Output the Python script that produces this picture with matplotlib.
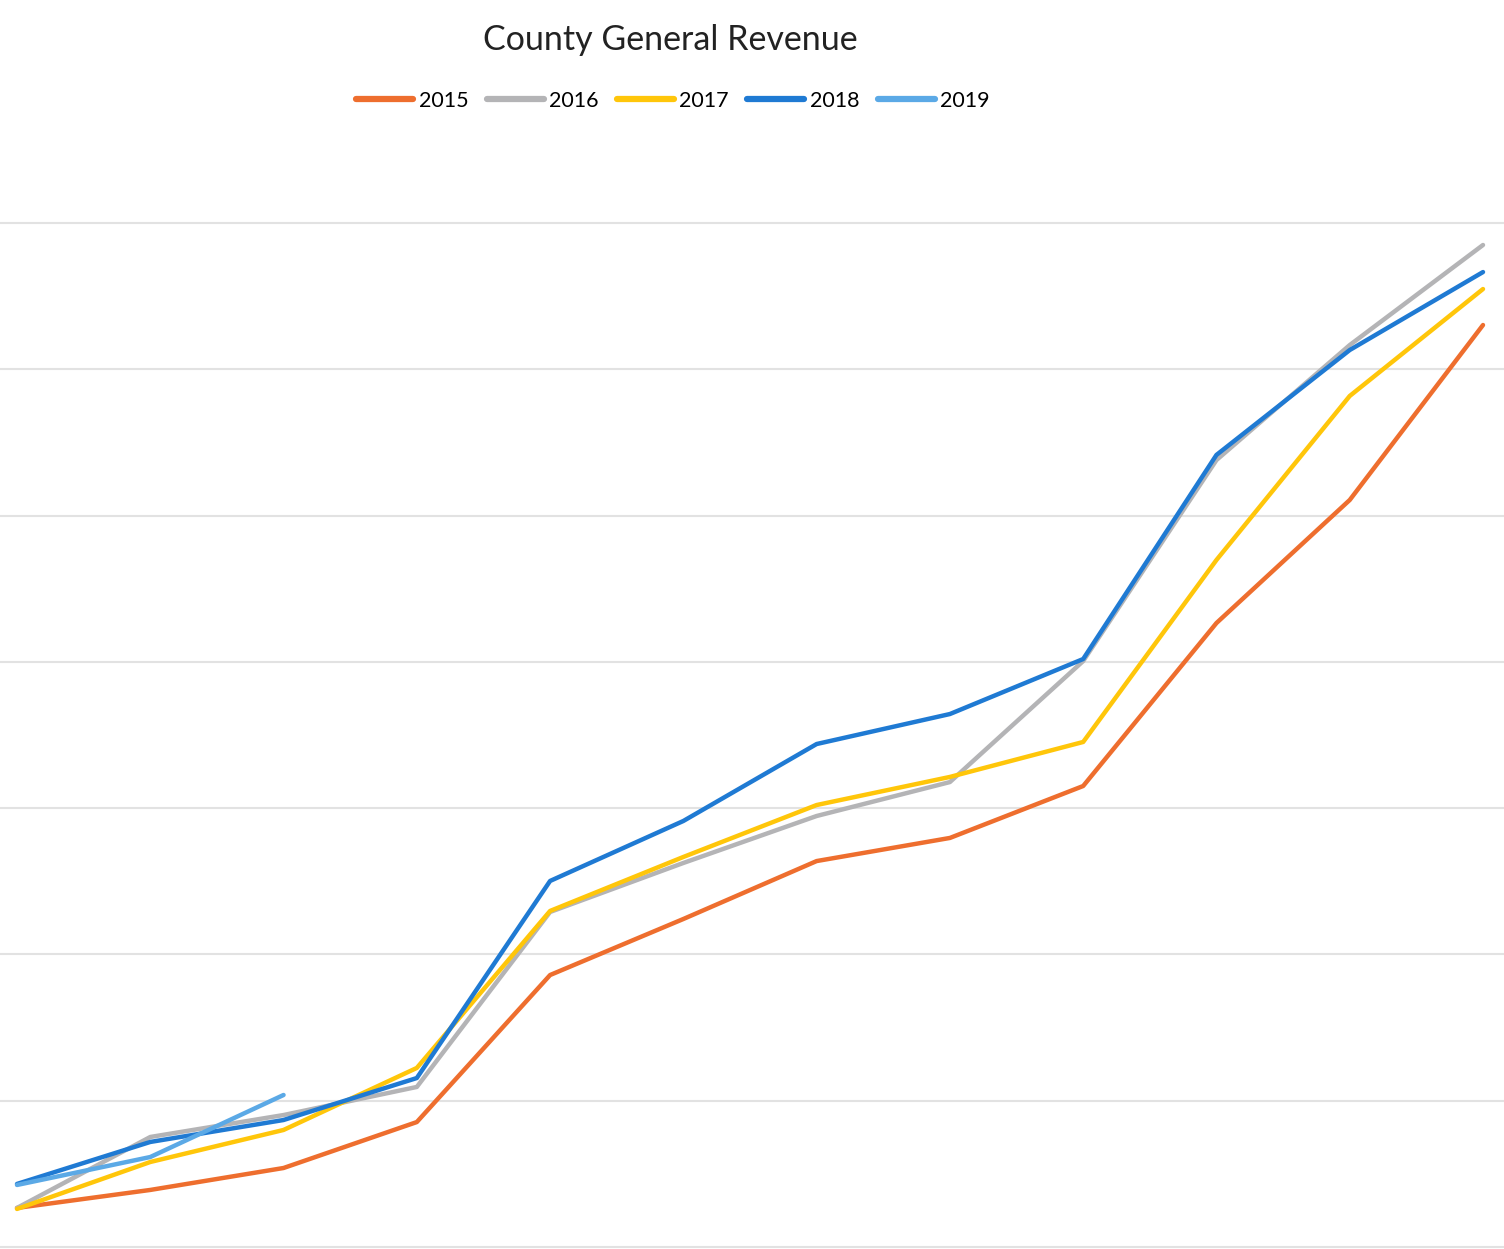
import matplotlib
matplotlib.use("Agg")
import matplotlib.pyplot as plt

months = ["Jan", "Feb", "Mar", "Apr", "May", "Jun", "Jul", "Aug", "Sep", "Oct", "Nov", "Dec"]
rev_2015 = [2.67, 3.90, 5.40, 8.54, 18.59, 22.42, 26.38, 27.96, 31.51, 42.65, 51.06, 63.02]
rev_2016 = [2.67, 7.52, 9.02, 10.94, 22.90, 26.25, 29.46, 31.78, 40.05, 53.79, 61.65, 68.49]
rev_2017 = [2.60, 5.81, 8.00, 12.24, 22.97, 26.66, 30.21, 32.13, 34.52, 46.96, 58.17, 65.48]
rev_2018 = [4.31, 7.18, 8.68, 11.55, 25.02, 29.12, 34.38, 36.43, 40.19, 54.14, 61.31, 66.64]
rev_2019 = [4.24, 6.15, 10.39]

series = [
    ("2015", rev_2015, "#EE6E2E"),
    ("2016", rev_2016, "#B4B4B6"),
    ("2017", rev_2017, "#FFC60A"),
    ("2018", rev_2018, "#1F7AD3"),
    ("2019", rev_2019, "#5BA9E6"),
]

fig = plt.figure(figsize=(15.04, 12.49), dpi=100)
ax = fig.add_axes([0, 0, 1, (1249 - 160) / 1249])

x = list(range(len(months)))
for name, vals, col in series:
    ax.plot(x[:len(vals)], vals, color=col, lw=3.2, label=name,
            solid_capstyle="round", solid_joinstyle="round", zorder=3)

ax.set_xlim(-17 / 133.3, 11 + 21 / 133.3)
ax.set_ylim(-2 / 14.63, (1249 - 160) / 14.63 - 2 / 14.63)
ax.set_yticks(range(0, 80, 10))
ax.grid(axis="y", color="#e2e2e2", lw=1.5, zorder=0)
ax.set_xticks([])
ax.tick_params(left=False, labelleft=False)
for s in ax.spines.values():
    s.set_visible(False)

fig.text(0.4455, 1 - 40 / 1249, "County General Revenue", ha="center", va="center",
         fontsize=24.5, family=["Lato", "DejaVu Sans"], color="#222222")
leg = fig.legend(loc="center", bbox_to_anchor=(0.4475, 1 - 101 / 1249), ncol=5, frameon=False,
                 handlelength=2.65, handletextpad=0.25, columnspacing=0.85,
                 prop={"family": ["Lato", "DejaVu Sans"], "size": 15.5})
for h in leg.get_lines():
    h.set_linewidth(4.5)

fig.savefig("out.png", dpi=100)
